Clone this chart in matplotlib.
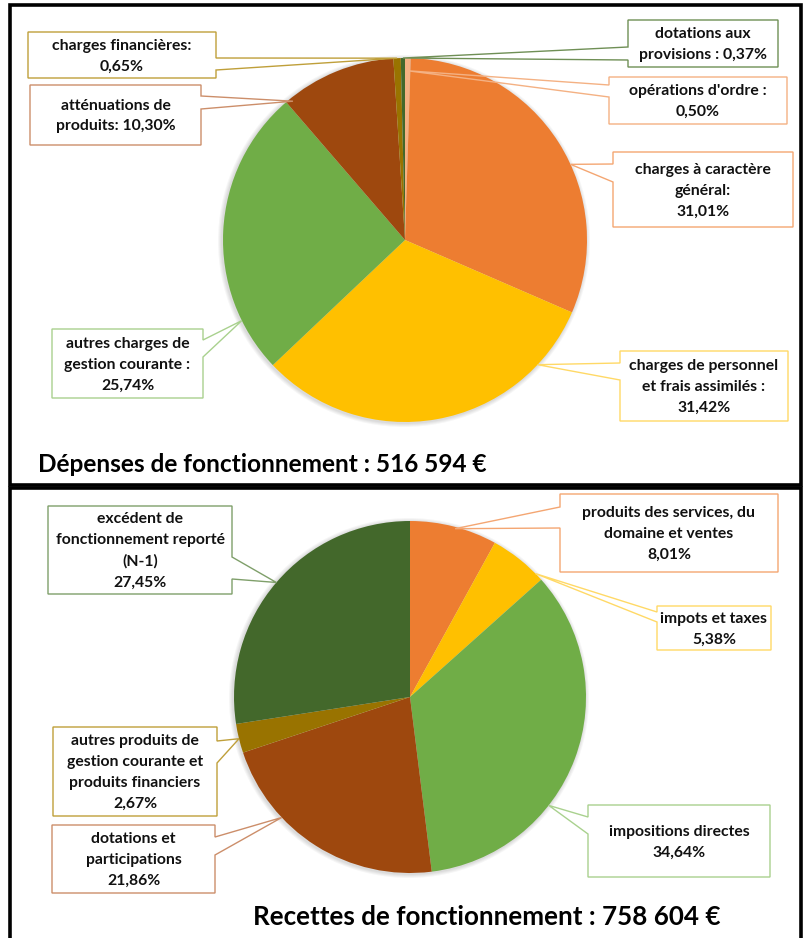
import numpy as np
import matplotlib
matplotlib.use('Agg')
import matplotlib.pyplot as plt
from matplotlib.patches import Rectangle, Polygon, Circle
from matplotlib import font_manager

# ---- données ----
dep_categories = ["opérations d'ordre", "charges à caractère général", "charges de personnel et frais assimilés",
                  "autres charges de gestion courante", "atténuations de produits", "charges financières",
                  "dotations aux provisions"]
dep_values = [0.50, 31.01, 31.42, 25.74, 10.30, 0.65, 0.37]
dep_labels = ["opérations d'ordre :\n0,50%", "charges à caractère\ngénéral:\n31,01%",
              "charges de personnel\net frais assimilés :\n31,42%", "autres charges de\ngestion courante :\n25,74%",
              "atténuations de\nproduits: 10,30%", "charges financières:\n0,65%", "dotations aux\nprovisions : 0,37%"]
dep_total = "Dépenses de fonctionnement : 516 594 €"

rec_categories = ["produits des services, du domaine et ventes", "impots et taxes", "impositions directes",
                  "dotations et participations", "autres produits de gestion courante et produits financiers",
                  "excédent de fonctionnement reporté (N-1)"]
rec_values = [8.01, 5.38, 34.64, 21.86, 2.67, 27.45]
rec_labels = ["produits des services, du\ndomaine et ventes\n8,01%", "impots et taxes\n5,38%",
              "impositions directes\n34,64%", "dotations et\nparticipations\n21,86%",
              "autres produits de\ngestion courante et\nproduits financiers\n2,67%",
              "excédent de\nfonctionnement reporté\n(N-1)\n27,45%"]
rec_total = "Recettes de fonctionnement : 758 604 €"

# ---- style ----
dep_colors = ['#F4B183', '#ED7D31', '#FFC000', '#70AD47', '#9E480E', '#997300', '#43682B']
dep_edges = ['#F4B183', '#F4A672', '#FFD966', '#A9D18E', '#CC8E6A', '#BF9F3A', '#6F8F55']
rec_colors = ['#ED7D31', '#FFC000', '#70AD47', '#9E480E', '#997300', '#43682B']
rec_edges = ['#F4A672', '#FFD966', '#A9D18E', '#CC8E6A', '#BF9F3A', '#7F9F6A']

# boîtes : (x0, y0, x1, y1) en pixels, côté de la pointe, base (ya, yb), position de la pointe (t, rf)
dep_boxes = [(609, 77, 787, 124, 'left', 85, 97, 0.5, 0.93),
             (613, 152, 793, 227, 'left', 164, 182, 0.57, 1.0),
             (620, 351, 788, 421, 'left', 363, 380, 0.175, 1.0),
             (52, 329, 203, 398, 'right', 340, 357, 0.185, 1.0),
             (30, 85, 201, 145, 'right', 96, 109, 0.05, 0.98),
             (28, 32, 216, 78, 'right', 58, 70, 0.5, 1.0),
             (628, 20, 778, 67, 'left', 47, 60, 0.5, 1.0)]
rec_boxes = [(560, 494, 778, 572, 'left', 507, 528, 0.52, 0.99),
             (657, 606, 771, 650, 'left', 612, 622, 0.86, 1.0),
             (588, 805, 770, 877, 'left', 817, 834, 0.64, 1.0),
             (52, 825, 215, 893, 'right', 837, 855, 0.685, 1.0),
             (53, 727, 217, 816, 'right', 741, 763, 0.49, 1.0),
             (48, 506, 232, 594, 'right', 557, 579, 0.5, 1.0)]

W, H = 807, 938
names = {f.name for f in font_manager.fontManager.ttflist}
fam = ['Lato', 'DejaVu Sans'] if 'Lato' in names else ['DejaVu Sans']
plt.rcParams['font.family'] = fam

fig = plt.figure(figsize=(W / 100, H / 100), dpi=100)
ax = fig.add_axes([0, 0, 1, 1])


def P(x, y):
    return (x, H - y)


def draw_pie(values, colors, edges, labels, boxes, cx, cy, r):
    # ombre légère
    for k in range(4, 0, -1):
        ax.add_patch(Circle(P(cx - 1, cy + 1), r + k, facecolor='#000000', alpha=0.035, edgecolor='none', zorder=0))
    ax.pie(values, colors=colors, startangle=90, counterclock=False,
           center=P(cx, cy), radius=r, frame=True, wedgeprops=dict(linewidth=0))
    cum = np.concatenate([[0], np.cumsum(values)]) / np.sum(values)
    for i, (lab, b) in enumerate(zip(labels, boxes)):
        x0, y0, x1, y1, side, ya, yb, t, rf = b
        a = np.deg2rad(360 * (cum[i] + t * (cum[i + 1] - cum[i])))
        tip = (cx + rf * r * np.sin(a), cy - rf * r * np.cos(a))
        ax.add_patch(Rectangle(P(x0, y1), x1 - x0, y1 - y0, facecolor='white', edgecolor='none', zorder=3))
        if side == 'right':
            pts = [(x0, y0), (x1, y0), (x1, ya), tip, (x1, yb), (x1, y1), (x0, y1)]
        else:
            pts = [(x0, y0), (x1, y0), (x1, y1), (x0, y1), (x0, yb), tip, (x0, ya)]
        ax.add_patch(Polygon([P(*p) for p in pts], closed=True, fill=False,
                             edgecolor=edges[i], linewidth=1.0, zorder=4))
        ax.text(*P((x0 + x1) / 2, (y0 + y1) / 2 + 1), lab, ha='center', va='center',
                fontsize=11.3, fontweight='bold', color='#111111', linespacing=1.62, zorder=5)


draw_pie(dep_values, dep_colors, dep_edges, dep_labels, dep_boxes, 405, 240, 182)
draw_pie(rec_values, rec_colors, rec_edges, rec_labels, rec_boxes, 410, 697, 176)

# cadres
ax.add_patch(Rectangle(P(10, 485), 791, 480, fill=False, edgecolor='black', linewidth=2.6, zorder=6))
ax.add_patch(Rectangle(P(10, 960), 791, 472, fill=False, edgecolor='black', linewidth=2.6, zorder=6))

# titres
t1 = ax.text(*P(38, 464), dep_total, ha='left', va='center', fontsize=17, fontweight='bold', color='black')
t2 = ax.text(*P(487, 917), rec_total, ha='center', va='center', fontsize=17, fontweight='bold', color='black')

ax.set_xlim(0, W)
ax.set_ylim(0, H)
ax.set_aspect('auto')
ax.axis('off')

# ajuster la taille des titres à la largeur de l'original
fig.canvas.draw()
for txt, target in [(t1, 450), (t2, 466)]:
    w = txt.get_window_extent().width
    txt.set_fontsize(txt.get_fontsize() * target / w)

fig.savefig('out.png', dpi=100, facecolor='white')
